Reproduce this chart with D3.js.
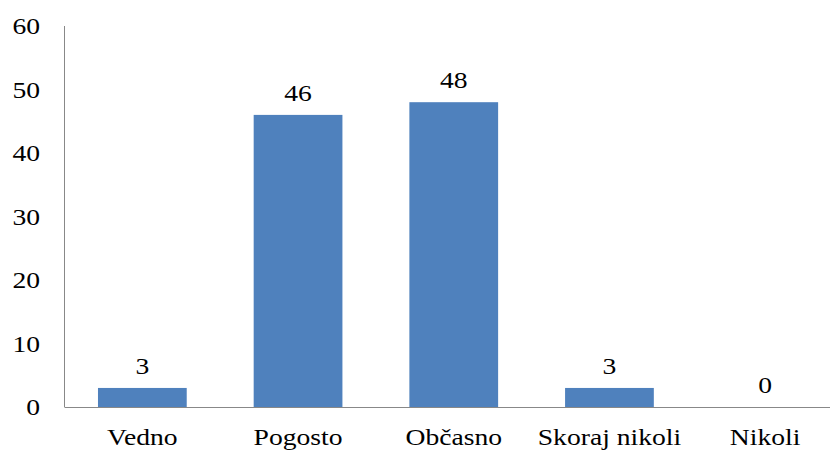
<!DOCTYPE html>
<html>
<head>
<meta charset="utf-8">
<script src="https://cdn.jsdelivr.net/npm/d3@7"></script>
<style>
  html, body { margin: 0; padding: 0; background: #fff; }
  svg { display: block; }
</style>
</head>
<body>
<div id="chart"></div>
<script>
const categories = ["Vedno", "Pogosto", "Občasno", "Skoraj nikoli", "Nikoli"];
const values = [3, 46, 48, 3, 0];
const yTicks = [0, 10, 20, 30, 40, 50, 60];

const W = 830, H = 450;
const FONT = 23;
const STRETCH = 1.2;

const svg = d3.select("#chart")
  .append("svg")
  .attr("width", W)
  .attr("height", H);

const x = d3.scaleBand()
  .domain(categories)
  .range([64.5, 843])
  .paddingInner(0.43)
  .paddingOuter(0.215);

const y = d3.scaleLinear()
  .domain([0, 60])
  .range([407, 26]);

function addText(px, py, str, anchor) {
  const t = svg.append("text")
    .attr("x", px)
    .attr("y", py)
    .attr("text-anchor", anchor || "middle")
    .attr("font-family", "Liberation Serif")
    .attr("font-size", FONT)
    .attr("fill", "#000")
    .text(str);
  const len = t.node().getComputedTextLength();
  t.attr("textLength", len * STRETCH).attr("lengthAdjust", "spacingAndGlyphs");
}

// axes lines
svg.append("line")
  .attr("x1", 64.5).attr("x2", 64.5)
  .attr("y1", y(60)).attr("y2", y(0))
  .attr("stroke", "#888").attr("stroke-width", 1);

svg.append("line")
  .attr("x1", 64.5).attr("x2", W)
  .attr("y1", y(0) + 0.5).attr("y2", y(0) + 0.5)
  .attr("stroke", "#888").attr("stroke-width", 1);

// y tick labels
yTicks.forEach(t => addText(40, y(t) + 8, t, "end"));

// bars
svg.selectAll(".bar")
  .data(values)
  .enter()
  .append("rect")
  .attr("class", "bar")
  .attr("x", (d, i) => x(categories[i]))
  .attr("width", x.bandwidth())
  .attr("y", d => y(d))
  .attr("height", d => y(0) - y(d))
  .attr("fill", "#4F81BD");

// value labels
values.forEach((v, i) => {
  addText(x(categories[i]) + x.bandwidth() / 2, y(v) - 14, v);
});

// category labels
categories.forEach(c => addText(x(c) + x.bandwidth() / 2, 445, c));
</script>
</body>
</html>
